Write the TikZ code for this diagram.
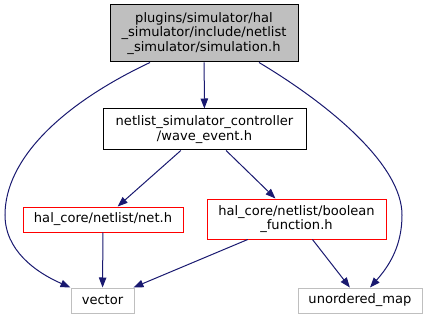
\documentclass[tikz,border=0pt]{standalone}
\usepackage{fontspec}
\setmainfont{DejaVu Sans}
\usetikzlibrary{arrows.meta,calc}
\definecolor{edgeblue}{HTML}{191970}
\definecolor{boxgray}{HTML}{BFBFBF}
\begin{document}
\begin{tikzpicture}[x=0.75pt, y=-0.75pt,
  file/.style={draw=black, line width=0.75pt, inner sep=0pt, align=center,
    font=\fontsize{9.8}{10.9}\selectfont},
  topfile/.style={file, fill=boxgray},
  redfile/.style={file, draw=red},
  sysfile/.style={file, draw=boxgray},
  dep/.style={draw=edgeblue, line width=0.75pt,
    -{Triangle[length=7.5pt, width=5.6pt]}}
]
\useasboundingbox (0,0) rectangle (427,320);

%% Files (centre, size)
\node[topfile, minimum width=188*0.75pt, minimum height=57*0.75pt] (sim) at (204,33.5)
  {plugins/simulator/hal\\\_simulator/include/netlist\\\_simulator/simulation.h};
\node[file, minimum width=203*0.75pt, minimum height=41*0.75pt] (wave) at (204.5,129.5)
  {netlist\_simulator\_controller\\/wave\_event.h};
\node[redfile, minimum width=160*0.75pt, minimum height=25*0.75pt] (net) at (103,219.5)
  {hal\_core/netlist/net.h};
\node[redfile, minimum width=179*0.75pt, minimum height=40*0.75pt] (bool) at (296.5,219)
  {hal\_core/netlist/boolean\\\_function.h};
\node[sysfile, minimum width=63*0.75pt, minimum height=25*0.75pt] (vec) at (102.5,300.5)
  {vector};
\node[sysfile, minimum width=124*0.75pt, minimum height=25*0.75pt] (umap) at (360,300.5)
  {unordered\_map};

%% Includes
\draw[dep] (sim) -- (wave);
\draw[dep] (wave) -- (net);
\draw[dep] (wave) -- (bool);
\draw[dep] (net) -- (vec);
\draw[dep] (bool) -- (vec);
\draw[dep] (bool) -- (umap);
\draw[dep] ($(sim.south)+(-54,0)$) .. controls (60,105) and (5,160) .. (5,215)
  .. controls (5,250) and (35,272) .. (vec.north west);
\draw[dep] ($(sim.south)+(55,0)$) .. controls (330,105) and (402,165) .. (402,215)
  .. controls (402,245) and (390,265) .. ($(umap.north)+(10,0)$);
\end{tikzpicture}
\end{document}
